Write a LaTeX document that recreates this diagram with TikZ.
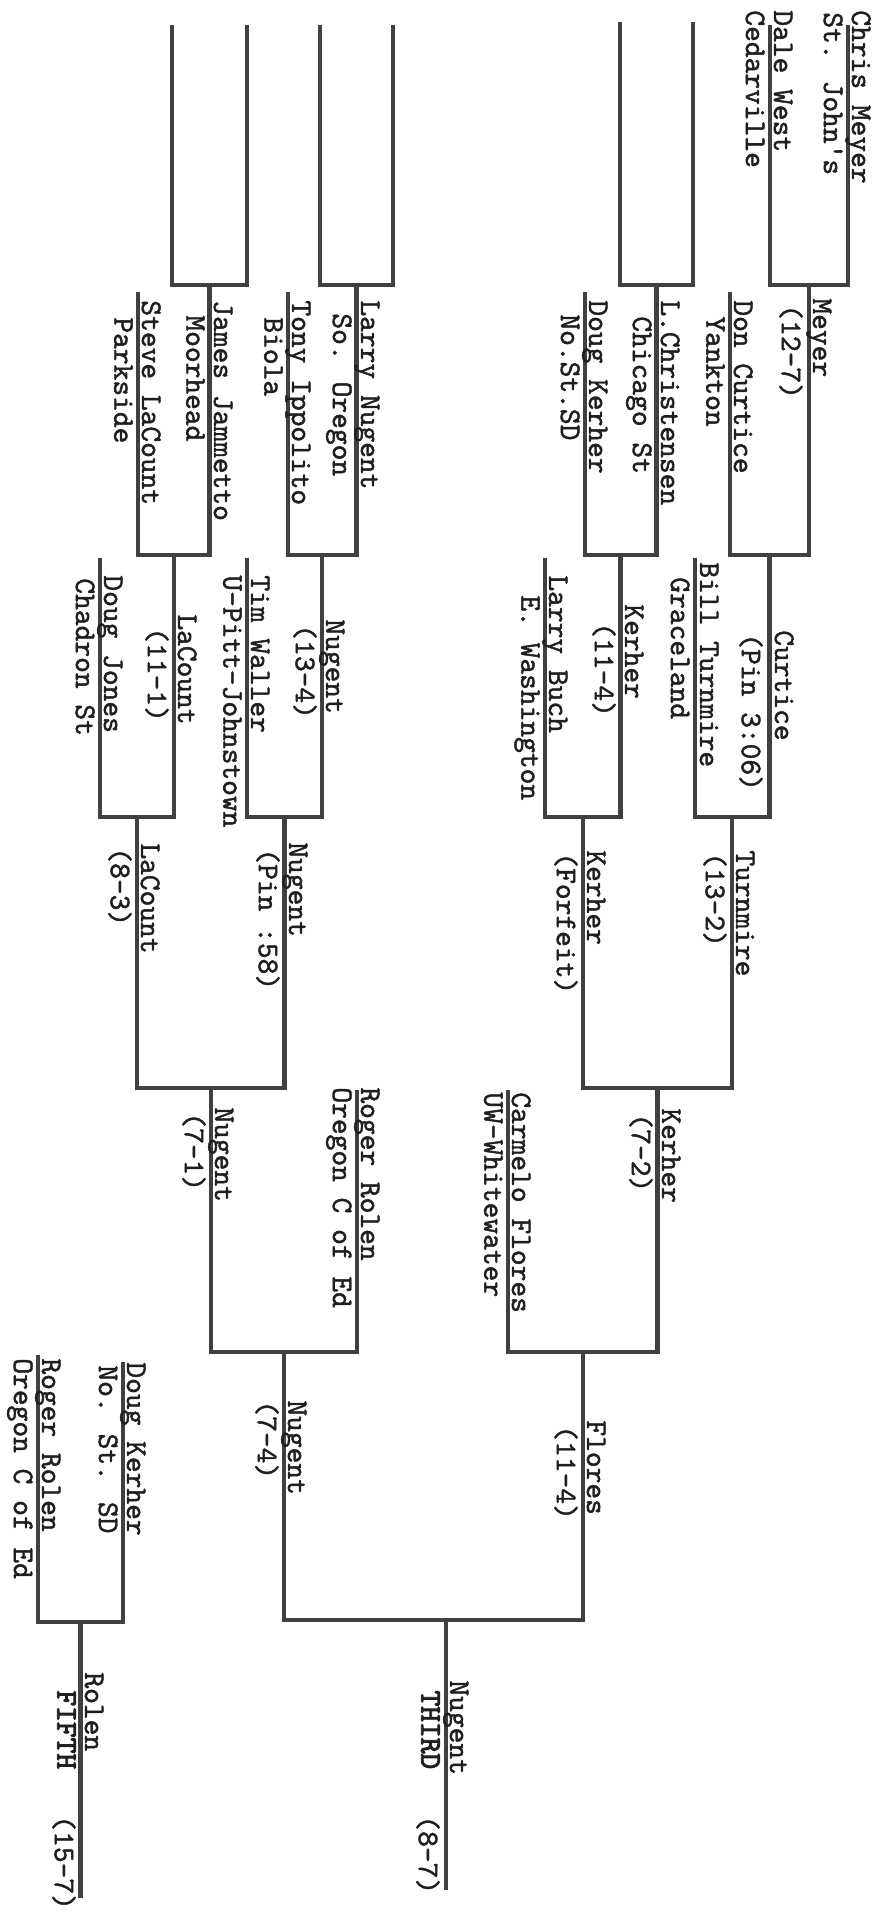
\documentclass[tikz,border=0pt]{standalone}
\usepackage{fontspec}
\newfontfamily\tw{lmmono10-regular}[Extension=.otf,FakeBold=1.5]
\newfontfamily\twb{lmmono10-regular}[Extension=.otf,FakeBold=3]
\tikzset{
  bracket/.style={line width=2.3pt, draw=black!75, line join=miter},
  abv/.style={rotate=-90, anchor=base west, inner sep=0pt, text=black!88,
    font=\tw\fontsize{15}{18}\selectfont},
  blw/.style={abv, anchor=north west},
  place/.style={blw, font=\twb\fontsize{15}{18}\selectfont},
}
\begin{document}
\begin{tikzpicture}[x=0.5pt,y=-0.5pt]
\fill[white] (0,0) rectangle (878,1917);
\useasboundingbox (0,0) rectangle (878,1917);
\pgfmathsetmacro{\ya}{285};
\pgfmathsetmacro{\yb}{555};
\pgfmathsetmacro{\yc}{817};
\pgfmathsetmacro{\yd}{1088};
\pgfmathsetmacro{\ye}{1352};
\pgfmathsetmacro{\yf}{1620};
% right half
\coordinate (meyer) at (848,25);
\coordinate (west) at (770,25);
\coordinate (byeA) at (693,22);
\coordinate (byeB) at (620,22);
\coordinate (curtice) at (730,292);
\coordinate (kerher) at (585,292);
\coordinate (turnmire) at (695,558);
\coordinate (buch) at (545,558);
\coordinate (flores) at (508,1090);
\coordinate (R1) at (809,\ya);
\coordinate (R2) at (656.5,\ya);
\coordinate (R3) at (769.5,\yb);
\coordinate (R4) at (620.75,\yb);
\coordinate (R5) at (732,\yc);
\coordinate (R6) at (583,\yc);
\coordinate (R7) at (657.5,\yd);
\coordinate (R8) at (583,\ye);
\draw[bracket] (meyer) -- (meyer |- R1) -- (west |- R1) -- (west);
\draw[bracket] (byeA) -- (byeA |- R2) -- (byeB |- R2) -- (byeB);
\draw[bracket] (R1) -- (R1 |- R3) -- (curtice |- R3) -- (curtice);
\draw[bracket] (R2) -- (R2 |- R4) -- (kerher |- R4) -- (kerher);
\draw[bracket] (R3) -- (R3 |- R5) -- (turnmire |- R5) -- (turnmire);
\draw[bracket] (R4) -- (R4 |- R6) -- (buch |- R6) -- (buch);
\draw[bracket] (R5) -- (R5 |- R7) -- (R6 |- R7) -- (R6);
\draw[bracket] (R7) -- (R7 |- R8) -- (flores |- R8) -- (flores);
% left half
\coordinate (byeC) at (393,25);
\coordinate (byeD) at (320,25);
\coordinate (byeE) at (247,25);
\coordinate (byeF) at (172,25);
\coordinate (ippolito) at (288,292);
\coordinate (lacount) at (138,292);
\coordinate (waller) at (247,558);
\coordinate (jones) at (100,558);
\coordinate (rolen) at (357,1090);
\coordinate (L1) at (356.5,\ya);
\coordinate (L2) at (209.5,\ya);
\coordinate (L3) at (322,\yb);
\coordinate (L4) at (174,\yb);
\coordinate (L5) at (284.5,\yc);
\coordinate (L6) at (137,\yc);
\coordinate (L7) at (211,\yd);
\coordinate (L8) at (284,\ye);
\draw[bracket] (byeC) -- (byeC |- L1) -- (byeD |- L1) -- (byeD);
\draw[bracket] (byeE) -- (byeE |- L2) -- (byeF |- L2) -- (byeF);
\draw[bracket] (L1) -- (L1 |- L3) -- (ippolito |- L3) -- (ippolito);
\draw[bracket] (L2) -- (L2 |- L4) -- (lacount |- L4) -- (lacount);
\draw[bracket] (L3) -- (L3 |- L5) -- (waller |- L5) -- (waller);
\draw[bracket] (L4) -- (L4 |- L6) -- (jones |- L6) -- (jones);
\draw[bracket] (L5) -- (L5 |- L7) -- (L6 |- L7) -- (L6);
\draw[bracket] (L7) -- (L7 |- L8) -- (rolen |- L8) -- (rolen);
% third and fifth
\coordinate (T) at (446,\yf);
\coordinate (Tend) at (446,1890);
\draw[bracket] (R8) -- (R8 |- T) -- (L8 |- T) -- (L8);
\draw[bracket] (T) -- (Tend);
\coordinate (kerherF) at (123,1362);
\coordinate (rolenF) at (38,1355);
\coordinate (F) at (80.5,1622);
\coordinate (Fend) at (80.5,1898);
\draw[bracket] (kerherF) -- (kerherF |- F) -- (rolenF |- F) -- (rolenF);
\draw[bracket] (F) -- (Fend);
% names and scores, right half
\node[abv] (nMeyer) at (852,10) {Chris Meyer};
\node[blw] (sMeyer) at (843,12) {St. John's};
\node[abv] (nWest) at (774,10) {Dale West};
\node[blw] (sWest) at (765,10) {Cedarville};
\node[abv] (wR1) at (813,298) {Meyer};
\node[blw] (cR1) at (803,304) {(12-7)};
\node[abv] (nCurtice) at (734,300) {Don Curtice};
\node[blw] (sCurtice) at (725,316) {Yankton};
\node[abv] (wR2) at (661,300) {L.Christensen};
\node[blw] (sR2) at (652,316) {Chicago St};
\node[abv] (nKerher) at (589,300) {Doug Kerher};
\node[blw] (sKerher) at (580,314) {No.St.SD};
\node[abv] (wR3) at (775,630) {Curtice};
\node[blw] (cR3) at (763,633) {(Pin 3:06)};
\node[abv] (nTurnmire) at (700,562) {Bill Turnmire};
\node[blw] (sTurnmire) at (690,577) {Graceland};
\node[abv] (wR4) at (625,604) {Kerher};
\node[blw] (cR4) at (616,622) {(11-4)};
\node[abv] (nBuch) at (549,575) {Larry Buch};
\node[blw] (sBuch) at (540,595) {E. Washington};
\node[abv] (wR5) at (736,850) {Turnmire};
\node[blw] (cR5) at (727,852) {(13-2)};
\node[abv] (wR6) at (587,850) {Kerher};
\node[blw] (cR6) at (578,852) {(Forfeit)};
\node[abv] (wR7) at (662,1108) {Kerher};
\node[blw] (cR7) at (653,1113) {(7-2)};
\node[abv] (nFlores) at (512,1092) {Carmelo Flores};
\node[blw] (sFlores) at (503,1092) {UW-Whitewater};
\node[abv] (wR8) at (587,1420) {Flores};
\node[blw] (cR8) at (578,1425) {(11-4)};
% names and scores, left half
\node[abv] (wL1) at (361,300) {Larry Nugent};
\node[blw] (sL1) at (352,313) {So. Oregon};
\node[abv] (nIppolito) at (292,300) {Tony Ippolito};
\node[blw] (sIppolito) at (283,317) {Biola};
\node[abv] (wL2) at (214,300) {James Jammetto};
\node[blw] (sL2) at (205,315) {Moorhead};
\node[abv] (nLacount) at (142,300) {Steve LaCount};
\node[blw] (sLacount) at (133,317) {Parkside};
\node[abv] (wL3) at (326,619) {Nugent};
\node[blw] (cL3) at (317,624) {(13-4)};
\node[abv] (nWaller) at (251,575) {Tim Waller};
\node[blw] (sWaller) at (242,575) {U-Pitt-Johnstown};
\node[abv] (wL4) at (178,614) {LaCount};
\node[blw] (cL4) at (169,627) {(11-1)};
\node[abv] (nJones) at (104,575) {Doug Jones};
\node[blw] (sJones) at (95,578) {Chadron St};
\node[abv] (wL5) at (289,842) {Nugent};
\node[blw] (cL5) at (280,848) {(Pin :58)};
\node[abv] (wL6) at (141,843) {LaCount};
\node[blw] (cL6) at (132,847) {(8-3)};
\node[abv] (wL7) at (215,1107) {Nugent};
\node[blw] (cL7) at (206,1112) {(7-1)};
\node[abv] (nRolen) at (361,1087) {Roger Rolen};
\node[blw] (sRolen) at (352,1087) {Oregon C of Ed};
\node[abv] (wL8) at (288,1400) {Nugent};
\node[blw] (cL8) at (279,1400) {(7-4)};
% places
\node[abv] (wT) at (450,1680) {Nugent};
\node[place] (pT) at (440,1690) {THIRD};
\node[blw] (cT) at (440,1815) {(8-7)};
\node[abv] (nKerherF) at (127,1362) {Doug Kerher};
\node[blw] (sKerherF) at (118,1365) {No. St. SD};
\node[abv] (nRolenF) at (42,1358) {Roger Rolen};
\node[blw] (sRolenF) at (33,1358) {Oregon C of Ed};
\node[abv] (wF) at (85,1672) {Rolen};
\node[place] (pF) at (76,1690) {FIFTH};
\node[blw] (cF) at (76,1815) {(15-7)};
\end{tikzpicture}
\end{document}
